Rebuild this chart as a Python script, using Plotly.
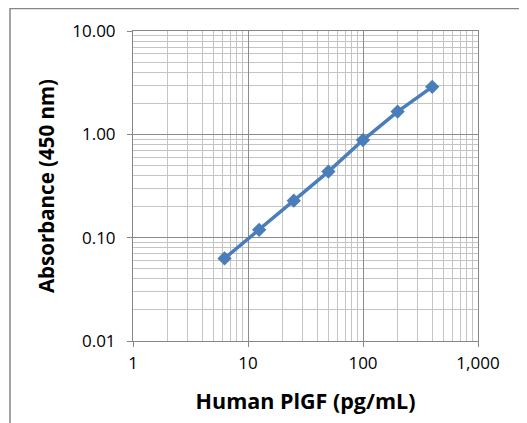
import plotly.graph_objects as go

conc = [6.25, 12.5, 25, 50, 100, 200, 400]
absorb = [0.063, 0.119, 0.228, 0.436, 0.88, 1.66, 2.88]
x_ticks = [1, 10, 100, 1000]
x_tick_labels = ["1", "10", "100", "1,000"]
y_ticks = [0.01, 0.1, 1, 10]
y_tick_labels = ["0.01", "0.10", "1.00", "10.00"]

# page body has an 8px margin; compensate so the plot lands where the reference has it
OFF = 8
W, H = 527 - OFF, 423 - OFF
ml, mt = 133 - OFF, 31 - OFF
mr = W - (478 - OFF)
mb = H - (341 - OFF)

fig = go.Figure()
fig.add_trace(go.Scatter(
    x=conc, y=absorb, mode="lines+markers",
    line=dict(color="#4a7ebb", width=3.5),
    marker=dict(symbol="diamond", size=11, color="#4a7ebb"),
    showlegend=False,
))

font = "Open Sans, Noto Sans, sans-serif"
axis_common = dict(
    type="log",
    showline=True, linecolor="#868686", linewidth=1, mirror=True,
    gridcolor="#8c8c8c", gridwidth=1,
    ticks="outside", ticklen=5, tickcolor="#868686",
    tickfont=dict(family=font, size=17, color="#000"),
    zeroline=False,
    minor=dict(showgrid=True, gridcolor="#c4c4c4", gridwidth=1, dtick="D1"),
)
fig.update_xaxes(range=[0, 3], tickvals=x_ticks, ticktext=x_tick_labels,
                 title=dict(text="<b>Human PlGF (pg/mL)</b>", font=dict(family=font, size=21.5, color="#000"), standoff=20),
                 ticklabelstandoff=2, **axis_common)
fig.update_yaxes(range=[-2, 1], tickvals=y_ticks, ticktext=y_tick_labels,
                 title=dict(text="<b>Absorbance (450 nm)</b>", font=dict(family=font, size=20.5, color="#000"), standoff=12),
                 ticklabelstandoff=8, **axis_common)

pw = W - ml - mr
ph = H - mt - mb
# outer chart frame (top-left corner visible, extends beyond the window)
fx0, fy0 = 10 - OFF, 8.5 - OFF
fig.add_shape(type="rect", xref="paper", yref="paper",
              x0=(fx0 - ml) / pw, x1=(W + 20 - ml) / pw,
              y0=(H - (H + 20) - mb) / ph, y1=(H - fy0 - mb) / ph,
              line=dict(color="#868686", width=1.5), layer="below")

fig.update_layout(
    width=W, height=H,
    margin=dict(l=ml, r=mr, t=mt, b=mb),
    paper_bgcolor="white", plot_bgcolor="white",
)
fig.write_html("out.html")
